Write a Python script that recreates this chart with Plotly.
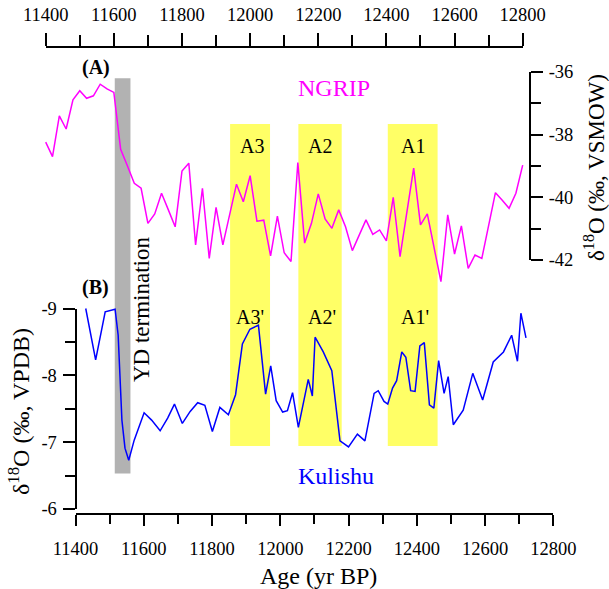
import plotly.graph_objects as go

# ---------------- data ----------------
# NGRIP d18O (VSMOW), plotted against the top age axis
ngrip_age = [11400, 11420, 11440, 11460, 11480, 11500, 11520, 11540, 11560, 11580,
             11600, 11620, 11640, 11660, 11680, 11700, 11720, 11740, 11760, 11780,
             11800, 11820, 11840, 11860, 11880, 11900, 11920, 11940, 11960, 11980,
             12000, 12020, 12040, 12060, 12080, 12100, 12120, 12140, 12160, 12180,
             12200, 12220, 12240, 12260, 12280, 12300, 12320, 12340, 12360, 12380,
             12400, 12420, 12440, 12480, 12500, 12520, 12560, 12580, 12600, 12620,
             12640, 12660, 12680, 12720, 12740, 12760, 12780, 12800]
ngrip_d18o = [-38.24, -38.70, -37.40, -37.82, -36.89, -36.60, -36.84, -36.76, -36.39, -36.54,
              -36.65, -38.47, -39.00, -39.55, -39.71, -40.83, -40.53, -39.87, -40.40, -40.94,
              -39.16, -38.91, -41.52, -39.71, -41.95, -40.32, -41.52, -40.53, -39.58, -40.14,
              -39.31, -40.76, -40.73, -41.87, -40.60, -41.77, -42.05, -38.89, -41.46, -40.83,
              -39.89, -40.69, -40.99, -40.40, -40.94, -41.70, -41.23, -40.72, -41.18, -41.04,
              -41.39, -40.00, -41.89, -39.07, -40.88, -40.53, -42.69, -40.56, -41.81, -40.91,
              -42.27, -41.84, -41.95, -39.85, -40.09, -40.35, -39.87, -38.97]

# Kulishu d18O (VPDB), plotted against the bottom age axis
kul_age = [11430, 11459, 11487, 11516, 11525, 11536, 11545, 11556, 11572, 11601,
           11623, 11648, 11670, 11690, 11713, 11736, 11758, 11779, 11801, 11823,
           11848, 11869, 11889, 11911, 11936, 11957, 11972, 11988, 12007, 12021,
           12036, 12053, 12082, 12094, 12102, 12126, 12151, 12175, 12200, 12226,
           12248, 12275, 12287, 12304, 12315, 12329, 12341, 12356, 12368, 12382,
           12395, 12409, 12422, 12437, 12450, 12464, 12480, 12492, 12507, 12536,
           12564, 12593, 12624, 12654, 12678, 12695, 12705, 12720]
kul_d18o = [-9.00, -8.23, -8.95, -8.99, -8.60, -7.33, -6.91, -6.73, -7.03, -7.44,
            -7.33, -7.17, -7.36, -7.57, -7.28, -7.46, -7.59, -7.55, -7.16, -7.52,
            -7.41, -7.71, -8.47, -8.69, -8.75, -7.72, -8.14, -7.62, -7.45, -7.47,
            -7.74, -7.22, -7.94, -7.69, -8.57, -8.35, -8.07, -7.02, -6.93, -7.12,
            -7.02, -7.73, -7.77, -7.61, -7.57, -7.81, -7.92, -8.35, -8.27, -7.77,
            -7.76, -8.44, -8.49, -7.56, -7.51, -8.22, -7.73, -7.98, -7.26, -7.48,
            -8.03, -7.63, -8.20, -8.35, -8.60, -8.21, -8.93, -8.56]

# event windows (bottom-axis ages)
yd_window = [11515, 11561]
event_names = ["A3", "A2", "A1"]
event_start = [11853, 12053, 12315]
event_end = [11970, 12180, 12461]

age_ticks = [11400, 11600, 11800, 12000, 12200, 12400, 12600, 12800]
age_minor = [11500, 11700, 11900, 12100, 12300, 12500, 12700]
kul_ticks = [-9, -8, -7, -6]
kul_minor = [-8.5, -7.5, -6.5]
ngrip_ticks = [-36, -38, -40, -42]
ngrip_minor = [-37, -39, -41]

# ---------------- layout geometry (pixels) ----------------
W, H = 609, 589
def px(x):
    return x / W
def py(y):
    return 1 - y / H

FONT = "Liberation Serif, Times New Roman, Times, serif"
MAG = "#ff00ff"
BLUE = "#0000ff"

# bottom axis: 11400 at 75.5px, 12800 at 553.3px
bx0, bx1 = 75.5, 553.3
# top axis: 11400 at 45.7px, 12800 at 522.7px
tx0, tx1 = 45.7, 522.7
# left axis: -9 at 308.5px, -6 at 509px
ly9, ly6 = 308.5, 509.0
# right axis: -36 at 72px, -42 at 260px
ry36, ry42 = 72.0, 260.0

kb = (bx1 - bx0) / 1400.0
kt = (tx1 - tx0) / 1400.0
x_rng = [11400 - bx0 / kb, 11400 + (W - bx0) / kb]
x2_rng = [11400 - tx0 / kt, 11400 + (W - tx0) / kt]
kl = (ly6 - ly9) / 3.0
y_rng = [-9 + (H - ly9) / kl, -9 - ly9 / kl]
kr = (ry42 - ry36) / 6.0
y2_rng = [-36 - (H - ry36) / kr, -36 + ry36 / kr]

fig = go.Figure()

fig.add_trace(go.Scatter(x=kul_age, y=kul_d18o, xaxis="x", yaxis="y", mode="lines",
                         line=dict(color=BLUE, width=1.5), showlegend=False, hoverinfo="skip"))
fig.add_trace(go.Scatter(x=ngrip_age, y=ngrip_d18o, xaxis="x2", yaxis="y2", mode="lines",
                         line=dict(color=MAG, width=1.5), showlegend=False, hoverinfo="skip"))
# dummy traces for the visible axes
fig.add_trace(go.Scatter(x=[12000], y=[-7.5], xaxis="x3", yaxis="y3", mode="markers",
                         marker=dict(opacity=0), showlegend=False, hoverinfo="skip"))
fig.add_trace(go.Scatter(x=[12000], y=[-39], xaxis="x4", yaxis="y4", mode="markers",
                         marker=dict(opacity=0), showlegend=False, hoverinfo="skip"))

hidden = dict(visible=False, showgrid=False, zeroline=False, fixedrange=True, automargin=False)
tickfont = dict(family=FONT, size=18.5, color="black")

def vis_axis(**kw):
    d = dict(showline=True, linecolor="black", linewidth=2, showgrid=False, zeroline=False,
             ticks="outside", tickcolor="black", tickwidth=2, ticklen=12,
             tickfont=tickfont, tickmode="array", fixedrange=True, automargin=False)
    d.update(kw)
    return d

fig.update_layout(
    width=W, height=H,
    margin=dict(l=0, r=0, t=0, b=0, pad=0, autoexpand=False),
    paper_bgcolor="white", plot_bgcolor="rgba(0,0,0,0)",
    xaxis=dict(domain=[0, 1], range=x_rng, anchor="y", **hidden),
    yaxis=dict(domain=[0, 1], range=y_rng, anchor="x", **hidden),
    xaxis2=dict(overlaying="x", range=x2_rng, anchor="y2", **hidden),
    yaxis2=dict(overlaying="y", range=y2_rng, anchor="x2", **hidden),
    xaxis3=vis_axis(domain=[px(bx0), px(bx1)], anchor="free", position=py(514), range=[11400, 12800],
                    tickvals=age_ticks, ticktext=[str(v) for v in age_ticks], ticklen=11,
                    ticklabelstandoff=7,
                    minor=dict(tickvals=age_minor, ticks="outside", ticklen=9, tickwidth=2, tickcolor="black")),
    yaxis3=vis_axis(domain=[py(ly6), py(ly9)], anchor="free", position=px(bx0), range=[-6, -9],
                    tickvals=kul_ticks, ticktext=[str(v) for v in kul_ticks],
                    ticklabelstandoff=2,
                    minor=dict(tickvals=kul_minor, ticks="outside", ticklen=10, tickwidth=2, tickcolor="black")),
    xaxis4=vis_axis(domain=[px(tx0), px(tx1)], anchor="free", position=py(46.7), side="top",
                    range=[11400, 12800],
                    tickvals=age_ticks, ticktext=[str(v) for v in age_ticks], ticklen=13,
                    ticklabelstandoff=4,
                    minor=dict(tickvals=age_minor, ticks="outside", ticklen=11, tickwidth=2, tickcolor="black")),
    yaxis4=vis_axis(domain=[py(ry42), py(ry36)], anchor="free", position=px(530), side="right",
                    range=[-42, -36],
                    tickvals=ngrip_ticks, ticktext=[str(v) for v in ngrip_ticks],
                    ticklabelstandoff=2,
                    minor=dict(tickvals=ngrip_minor, ticks="outside", ticklen=10, tickwidth=2, tickcolor="black")),
)

# shaded windows
fig.add_shape(type="rect", xref="x", yref="paper", x0=yd_window[0], x1=yd_window[1],
              y0=py(473.5), y1=py(78.3), fillcolor="#b2b2b2", line=dict(width=0), layer="below")
for s, e in zip(event_start, event_end):
    fig.add_shape(type="rect", xref="x", yref="paper", x0=s, x1=e,
                  y0=py(446), y1=py(124), fillcolor="#ffff66", line=dict(width=0), layer="below")

def ann(text, x, y, size, color="black", angle=0, **kw):
    fig.add_annotation(text=text, xref="paper", yref="paper", x=px(x), y=py(y),
                       showarrow=False, textangle=angle, xanchor="center", yanchor="middle",
                       font=dict(family=FONT, size=size, color=color), **kw)

# event labels (centred over their windows)
lab_px_top = [251.5, 320.0, 413.3]
lab_px_bot = [250.0, 321.7, 415.0]
for name, xt, xb in zip(event_names, lab_px_top, lab_px_bot):
    ann(name, xt, 146, 20)
    ann(name + "'", xb, 316.5, 20)

ann("<b>(A)</b>", 96, 68, 20)
ann("<b>(B)</b>", 95.5, 288, 20)
ann("NGRIP", 334, 88, 24, MAG)
ann("Kulishu", 336, 476, 24, BLUE)
ann("YD termination", 141, 310, 23, angle=-90)
ann("Age (yr BP)", 318, 576, 24)
ann("δ<sup>18</sup>O (‰, VPDB)", 19, 412, 24, angle=-90)
ann("δ<sup>18</sup>O (‰, VSMOW)", 594, 168, 23, angle=-90)

fig.write_html("out.html")
